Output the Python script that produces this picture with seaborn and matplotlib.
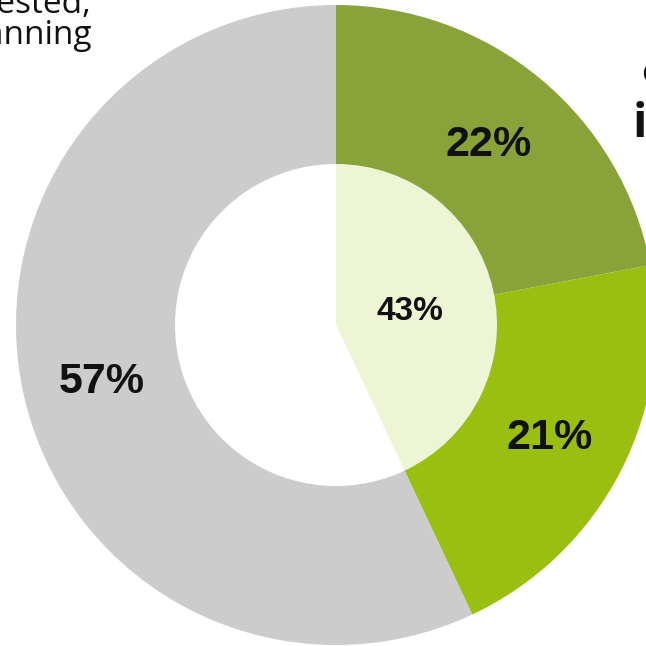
import matplotlib.pyplot as plt
import seaborn as sns

# outer ring shares and inner pie shares
outer_labels = ['A', 'B', 'C']
outer_values = [22, 21, 57]
outer_colors = ['#8aa23a', '#9bbf11', '#cccccc']

inner_labels = ['yes', 'rest']
inner_values = [43, 57]
inner_colors = ['#eef5d4', '#ffffff']

sns.set_theme(style='white')
plt.rcParams['font.family'] = ['Liberation Sans', 'DejaVu Sans']

fig = plt.figure(figsize=(6.46, 6.46), dpi=100)
ax = fig.add_axes([0, 0, 1, 1])

#outer donut, 22 and 21 starting at 12 o'clock clockwise
_, _, outer_txt = ax.pie(outer_values, colors=outer_colors, startangle=90, counterclock=False,
       radius=320, center=(336, 321), autopct='%d%%', pctdistance=0.75,
       wedgeprops=dict(width=160, linewidth=0),
       textprops=dict(fontsize=31, fontweight='bold', color='#111111'),
       frame=True)

#inner pie, only the 43% slice is labelled
_, _, inner_txt = ax.pie(inner_values, colors=inner_colors, startangle=90, counterclock=False,
       radius=161, center=(336, 321),
       autopct=lambda p: '%d%%' % round(p) if p < 50 else '', pctdistance=0.47,
       wedgeprops=dict(linewidth=0),
       textprops=dict(fontsize=24, fontweight='bold', color='#111111'),
       frame=True)
for t in outer_txt + inner_txt:
    t.set_va('center_baseline')
ax.set_xlim(0, 646)
ax.set_ylim(0, 646)
ax.set_aspect('equal')
ax.axis('off')

# text cut off by the crop
fig.text(92, 646 - 13, 'Interested,', ha='right', va='baseline', fontsize=24,
         family=['Open Sans', 'DejaVu Sans'], color='#111111', transform=None)
fig.text(92, 646 - 44, 'planning', ha='right', va='baseline', fontsize=24,
         family=['Open Sans', 'DejaVu Sans'], color='#111111', transform=None)
fig.text(641, 646 - 82, 'currently', ha='left', va='baseline', fontsize=24,
         family=['Open Sans', 'DejaVu Sans'], color='#111111', transform=None)
fig.text(633, 646 - 137, 'in', ha='left', va='baseline', fontsize=34, fontweight='bold',
         family=['Open Sans', 'DejaVu Sans'], color='#111111', transform=None)

plt.savefig('out.png', dpi=100)
